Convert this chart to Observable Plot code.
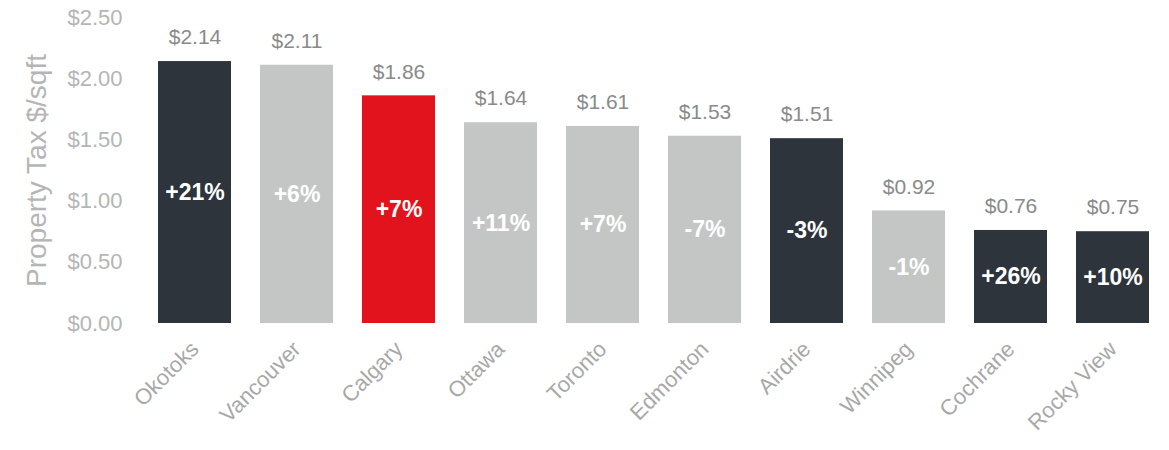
<!DOCTYPE html>
<html>
<head>
<meta charset="utf-8">
<script src="https://cdn.jsdelivr.net/npm/d3@7"></script>
<script src="https://cdn.jsdelivr.net/npm/@observablehq/plot@0.6"></script>
<style>
  html, body { margin: 0; padding: 0; background: #fff; }
  #chart svg { display: block; }
</style>
</head>
<body>
<div id="chart"></div>
<script>
const cities = ["Okotoks", "Vancouver", "Calgary", "Ottawa", "Toronto", "Edmonton", "Airdrie", "Winnipeg", "Cochrane", "Rocky View"];
const taxPerSqft = [2.14, 2.11, 1.86, 1.64, 1.61, 1.53, 1.51, 0.92, 0.76, 0.75];
const changeLabels = ["+21%", "+6%", "+7%", "+11%", "+7%", "-7%", "-3%", "-1%", "+26%", "+10%"];
const group = ["region", "major", "calgary", "major", "major", "major", "region", "major", "region", "region"];
const yTicks = [0, 0.5, 1, 1.5, 2, 2.5];

const data = cities.map((c, i) => ({city: c, value: taxPerSqft[i], change: changeLabels[i], group: group[i]}));

const chart = Plot.plot({
  width: 1169,
  height: 450,
  marginLeft: 144,
  marginRight: 5,
  marginTop: 17,
  marginBottom: 127,
  style: {fontFamily: "'Liberation Sans', Arial, sans-serif", background: "#fff"},
  x: {domain: cities, paddingInner: 0.28, paddingOuter: 0.14, label: null},
  y: {domain: [0, 2.5], label: null},
  color: {domain: ["region", "major", "calgary"], range: ["#2e343c", "#c4c6c5", "#e2131d"]},
  marks: [
    Plot.barY(data, {x: "city", y: "value", fill: "group"}),
    Plot.text(data, {x: "city", y: "value", text: d => "$" + d.value.toFixed(2), dy: -24, fill: "#8a8a8a", fontSize: 21}),
    Plot.text(data, {x: "city", y: d => d.value / 2, text: "change", fill: "#fff", fontWeight: "bold", fontSize: 23}),
    Plot.axisY({ticks: yTicks, tickFormat: d => "$" + d.toFixed(2), tickSize: 0, tickPadding: 22, fontSize: 22, color: "#b5b5b5", label: null}),
    Plot.text(["Property Tax $/sqft"], {frameAnchor: "left", dx: -107, rotate: -90, textAnchor: "middle", fontSize: 28, fill: "#b5b5b5", text: d => d}),
    Plot.axisX({tickSize: 0, tickPadding: 22, tickRotate: -45, fontSize: 22, color: "#a8a8a8", label: null})
  ]
});
document.getElementById("chart").appendChild(chart);
</script>
</body>
</html>
